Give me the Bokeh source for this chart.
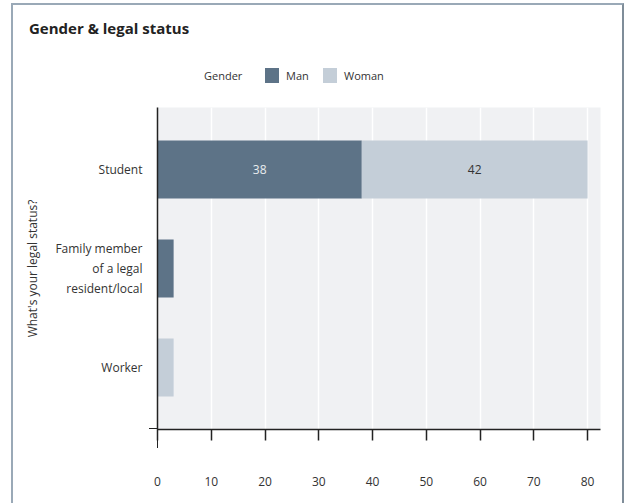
from bokeh.plotting import figure
from bokeh.layouts import column
from bokeh.models import (ColumnDataSource, FactorRange, Range1d, LabelSet, Div,
                          InlineStyleSheet)
from bokeh.core.properties import value
from bokeh.embed import file_html
from bokeh.resources import INLINE

# ---- data ----
title_text = "Gender & legal status"
categories = ["Student", "Family member\nof a legal\nresident/local", "Worker"]
series = ["Man", "Woman"]
man = [38, 3, 0]
woman = [42, 0, 3]
x_ticks = [0, 10, 20, 30, 40, 50, 60, 70, 80]
colors = ["#5d7387", "#c4ced8"]
legend_title = "Gender"

FONT = "Open Sans"

src = ColumnDataSource(dict(cat=categories, Man=man, Woman=woman))

p = figure(width=625, height=403, output_backend="svg", toolbar_location=None, title=None,
           y_range=FactorRange(factors=categories[::-1], range_padding=0.125,
                               range_padding_units="absolute"),
           x_range=Range1d(0, 82.4),
           min_border_left=157, min_border_right=25, min_border_top=7, min_border_bottom=74)

renderers = p.hbar_stack(series, y="cat", height=0.585, color=colors, line_color=None, source=src)

# value labels on larger segments
lx, ly, lt, lc = [], [], [], []
for c, m, w in zip(categories, man, woman):
    if m >= 10:
        lx.append(m / 2); ly.append(c); lt.append(str(m)); lc.append("#e9edf0")
    if w >= 10:
        lx.append(m + w / 2); ly.append(c); lt.append(str(w)); lc.append("#333333")
lsrc = ColumnDataSource(dict(x=lx, y=ly, t=lt, c=lc))
p.add_layout(LabelSet(x="x", y="y", text="t", source=lsrc, text_color="c",
                      text_align="center", text_baseline="middle",
                      text_font=value(FONT), text_font_size="12px"))

# styling
p.background_fill_color = "#f0f1f3"
p.outline_line_color = None
p.ygrid.grid_line_color = None
p.xgrid.grid_line_color = "white"
p.xgrid.grid_line_width = 1.5
p.xgrid.ticker = x_ticks

p.xaxis.ticker = x_ticks
p.xaxis.axis_line_color = "#222222"
p.xaxis.axis_line_width = 1.5
p.xaxis.major_tick_line_color = "#222222"
p.xaxis.major_tick_line_width = 1.5
p.xaxis.major_tick_out = 11
p.xaxis.major_tick_in = 0
p.xaxis.minor_tick_line_color = None
p.xaxis.major_label_standoff = 36
p.xaxis.major_label_text_font = FONT
p.xaxis.major_label_text_font_size = "12px"
p.xaxis.major_label_text_color = "#333333"

p.yaxis.axis_line_color = "#222222"
p.yaxis.axis_line_width = 1.5
p.yaxis.major_tick_line_color = None
p.yaxis.minor_tick_line_color = None
p.yaxis.major_label_standoff = 9
p.yaxis.major_label_text_font = FONT
p.yaxis.major_label_text_font_size = "12px"
p.yaxis.major_label_text_color = "#333333"
p.yaxis.axis_label = "What's your legal status?"
p.yaxis.axis_label_text_font = FONT
p.yaxis.axis_label_text_font_size = "12px"
p.yaxis.axis_label_text_font_style = "normal"
p.yaxis.axis_label_text_color = "#333333"
p.yaxis.axis_label_standoff = 11

# header: title + legend (as HTML)
def span(text, left, top, size, weight="normal", color="#333"):
    return (f'<span style="position:absolute;left:{left}px;top:{top}px;font-family:\'{FONT}\';'
            f'font-size:{size}px;line-height:{size + 4}px;font-weight:{weight};color:{color};'
            f'white-space:nowrap">{text}</span>')

def swatch(left, top, color):
    return (f'<span style="position:absolute;left:{left}px;top:{top}px;width:14px;height:15px;'
            f'background:{color}"></span>')

html = '<div style="position:relative;width:625px;height:100px;margin:0;padding:0">'
html += span(title_text.replace("&", "&amp;"), 29, 19, 15, "bold", "#222")
html += span(legend_title, 204, 68, 11)
for name, col, sx in zip(series, colors, [265, 323]):
    html += swatch(sx, 68, col)
    html += span(name, sx + 21, 68, 11)
html += '</div>'
header = Div(text=html, width=625, height=100, margin=0)

layout = column(header, p, spacing=0)
layout.stylesheets = [InlineStyleSheet(css="""
:host { position: relative; }
:host::after {
  content: ""; position: absolute; left: 11px; top: 3px; width: 613px; height: 500px;
  box-sizing: border-box; border: 2px solid #9aa9b7; border-right-color: #7f8d99;
  border-bottom: none; pointer-events: none; z-index: 10;
}
:host::before {
  content: ""; position: absolute; left: 149px; top: 428px; width: 9px; height: 20px;
  box-sizing: border-box; border-top: 1.5px solid #222; border-right: 1.5px solid #222;
  pointer-events: none; z-index: 10;
}
""")]

open("out.html", "w").write(file_html(layout, INLINE))
